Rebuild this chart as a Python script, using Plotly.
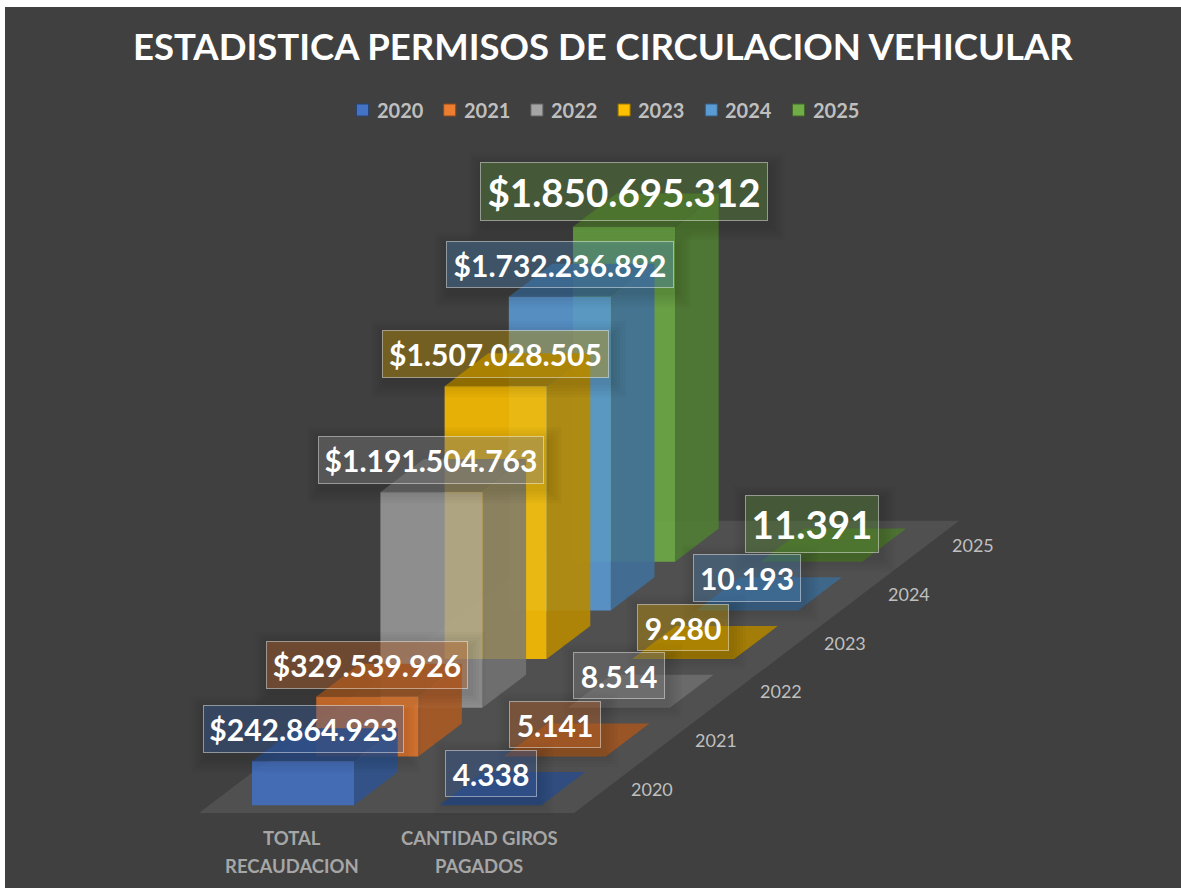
import plotly.graph_objects as go

TITLE = "ESTADISTICA PERMISOS DE CIRCULACION VEHICULAR"
years = ["2020", "2021", "2022", "2023", "2024", "2025"]
categories = [["TOTAL", "RECAUDACION"], ["CANTIDAD GIROS", "PAGADOS"]]
total_recaudacion = [242864923, 329539926, 1191504763, 1507028505, 1732236892, 1850695312]
cantidad_giros = [4338, 5141, 8514, 9280, 10193, 11391]
money_labels = ["$242.864.923", "$329.539.926", "$1.191.504.763", "$1.507.028.505", "$1.732.236.892", "$1.850.695.312"]
count_labels = ["4.338", "5.141", "8.514", "9.280", "10.193", "11.391"]
series_rgb = [(68, 114, 196), (237, 125, 49), (165, 165, 165), (255, 192, 0), (91, 155, 213), (112, 173, 71)]
series_alpha = [0.9, 0.9, 0.8, 0.9, 0.9, 0.9]

# Oblique projection of the 3D chart space on the (pixel-scaled) cartesian axes
W, H = 1181, 888
ORIGIN_X, ORIGIN_Y = 199.0, 813.0      # front-left corner of the floor
CAT_W = 187.5                          # width of a category slot
SLOT_DX, SLOT_DY = 64.2, -48.7         # shift per series along the depth axis
Y_SCALE = 335.0 / 1850695312           # height per unit of value
BAR_W = 102.0
BAR_DEPTH = 0.68                       # fraction of a depth slot


def proj(cat, depth, value=0.0):
    return (ORIGIN_X + cat * CAT_W + depth * SLOT_DX,
            ORIGIN_Y + depth * SLOT_DY - value * Y_SCALE)


def rgba(c, a, k=1.0):
    return f"rgba({int(c[0]*k)},{int(c[1]*k)},{int(c[2]*k)},{a})"


def poly_trace(points, fill, name):
    xs = [p[0] for p in points]
    ys = [p[1] for p in points]
    return go.Scatter(x=xs, y=ys, mode="lines", fill="toself", fillcolor=fill,
                      line=dict(width=0), hoverinfo="skip", name=name, showlegend=False)


fig = go.Figure()

# floor
n = len(years)
fig.add_trace(poly_trace([proj(0, 0), proj(2, 0), proj(2, n), proj(0, n), proj(0, 0)],
                         "rgba(255,255,255,0.085)", "floor"))

values_by_cat = [total_recaudacion, cantidad_giros]
for s in range(n - 1, -1, -1):
    c = series_rgb[s]
    a = series_alpha[s]
    for cat in range(2):
        v = values_by_cat[cat][s]
        d0 = s + (1 - BAR_DEPTH) / 2
        d1 = d0 + BAR_DEPTH
        cx = cat + 0.5
        half = BAR_W / 2 / CAT_W
        l, r = cx - half, cx + half
        front = [proj(l, d0), proj(r, d0), proj(r, d0, v), proj(l, d0, v), proj(l, d0)]
        side = [proj(r, d0), proj(r, d1), proj(r, d1, v), proj(r, d0, v), proj(r, d0)]
        top = [proj(l, d0, v), proj(r, d0, v), proj(r, d1, v), proj(l, d1, v), proj(l, d0, v)]
        fig.add_trace(poly_trace(side, rgba(c, a, 0.72), years[s]))
        fig.add_trace(poly_trace(top, rgba(c, a, 0.68), years[s]))
        fig.add_trace(poly_trace(front, rgba(c, a, 0.98), years[s]))

# data labels
shapes = [dict(type="rect", xref="x", yref="y", x0=5, x1=W, y0=7, y1=H,
               fillcolor="#404040", line_width=0, layer="below")]
annotations = []
box_w_money = [201, 202, 226, 227, 228, 288]
box_w_count = [92, 92, 92, 92, 108, 134]
box_h_money = [48, 48, 48, 48, 47, 59]
box_h_count = [47, 47, 47, 47, 48, 58]
raise_money = [32, 32, 32, 32, 32, 35]
raise_count = [32, 32, 32, 32, 32, 38]
for s in range(n):
    c = series_rgb[s]
    for cat in range(2):
        v = values_by_cat[cat][s]
        d0 = s + (1 - BAR_DEPTH) / 2
        px, py = proj(cat + 0.5, d0, v)
        text = (money_labels if cat == 0 else count_labels)[s]
        w = (box_w_money if cat == 0 else box_w_count)[s]
        h = (box_h_money if cat == 0 else box_h_count)[s]
        py -= (raise_money if cat == 0 else raise_count)[s]
        for grow in (14, 11, 8, 5, 2):
            shapes.append(dict(type="rect", xref="x", yref="y",
                               x0=px - w / 2 - grow + 3, x1=px + w / 2 + grow + 3,
                               y0=py - h / 2 - grow + 5, y1=py + h / 2 + grow + 5,
                               fillcolor="rgba(0,0,0,0.022)", line_width=0, layer="above"))
        size = 38.5 if s == n - 1 else 30
        annotations.append(dict(x=px, y=py, xref="x", yref="y", text=f"<b>{text}</b>",
                                showarrow=False, width=w - 2, height=h - 2,
                                align="center", valign="middle", borderpad=0,
                                bgcolor=rgba(c, 0.38, 0.85),
                                bordercolor="rgba(255,255,255,0.45)", borderwidth=1,
                                font=dict(family="Lato", size=size, color="white")))

# category axis labels
for cat, lines in enumerate(categories):
    px, _ = proj(cat + 0.5, 0)
    for i, line in enumerate(lines):
        annotations.append(dict(x=px - 1, y=ORIGIN_Y + 25 + i * 28, xref="x", yref="y",
                                text=f"<b>{line}</b>", showarrow=False, align="center",
                                yanchor="middle",
                                font=dict(family="Lato", size=18.5, color="#a6a6a6")))

# depth axis labels
for s, y in enumerate(years):
    px, py = proj(2, s + 0.5)
    annotations.append(dict(x=px + 23, y=py, xref="x", yref="y", text=y, showarrow=False,
                            xanchor="left", yanchor="middle",
                            font=dict(family="Lato", size=18, color="#bfbfbf")))

# legend
LEG_X, LEG_Y, LEG_STEP = 362.5, 110, 87.2
for s, y in enumerate(years):
    c = series_rgb[s]
    fig.add_trace(go.Scatter(x=[LEG_X + s * LEG_STEP], y=[LEG_Y], mode="markers",
                             marker=dict(symbol="square", size=12, color=rgba(c, 1),
                                         line=dict(width=1, color=rgba(c, 1, 0.6))),
                             name=y, showlegend=False, hoverinfo="name"))
    annotations.append(dict(x=LEG_X + s * LEG_STEP + 12, y=LEG_Y, xref="x", yref="y",
                            text=f"<b>{y}</b>", showarrow=False, xanchor="left", yanchor="middle",
                            font=dict(family="Lato", size=20, color="#bfbfbf")))

annotations.append(dict(x=603, y=45.5, xref="x", yref="y", text=f"<b>{TITLE}</b>", showarrow=False,
                        font=dict(family="Lato", size=36.5, color="white")))

fig.update_layout(
    width=W, height=H, margin=dict(l=0, r=0, t=0, b=0), autosize=False,
    paper_bgcolor="white", plot_bgcolor="rgba(0,0,0,0)", showlegend=False,
    xaxis=dict(range=[0, W], visible=False, fixedrange=True),
    yaxis=dict(range=[H, 0], visible=False, fixedrange=True),
    shapes=shapes, annotations=annotations,
)
fig.write_html("out.html", config=dict(displayModeBar=False),
               post_script="document.body.style.margin='0';document.body.style.overflow='hidden';")
